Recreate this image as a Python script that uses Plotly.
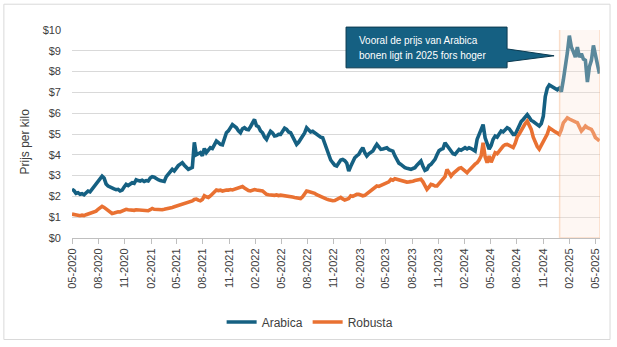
import pandas as pd
import plotly.graph_objects as go

# Weekly coffee prices in USD per kilo, starting 1 May 2020 (one row per quarter)
weeks = pd.date_range("2020-05-01", periods=264, freq="7D")

arabica = [
    2.34, 2.28, 2.15, 2.18, 2.10, 2.13, 2.08, 2.20, 2.26, 2.22, 2.35, 2.48, 2.55,
    2.70, 2.82, 2.97, 2.88, 2.60, 2.50, 2.44, 2.40, 2.36, 2.32, 2.34, 2.26, 2.30,
    2.45, 2.58, 2.52, 2.60, 2.66, 2.63, 2.80, 2.76, 2.74, 2.78, 2.72, 2.76, 2.74,
    2.88, 2.95, 2.92, 2.84, 2.80, 2.76, 2.74, 2.72, 2.95, 3.08, 3.15, 3.30, 3.22,
    3.36, 3.48, 3.55, 3.62, 3.50, 3.42, 3.30, 3.35, 3.40, 4.60, 4.00, 4.05, 4.10,
    3.95, 4.30, 4.10, 4.20, 4.34, 4.30, 4.50, 4.66, 4.58, 4.50, 4.48, 4.80, 5.06,
    5.15, 5.35, 5.45, 5.38, 5.30, 5.15, 5.06, 5.25, 5.30, 5.22, 5.20, 5.35, 5.55,
    5.70, 5.40, 5.35, 5.15, 5.06, 4.85, 4.74, 4.95, 5.13, 5.05, 4.90, 4.92, 4.98,
    4.98, 5.10, 5.28, 5.22, 5.10, 5.06, 4.85, 4.62, 4.50, 4.60, 4.75, 4.82, 5.05,
    5.30, 5.22, 5.10, 5.13, 5.05, 4.98, 4.90, 4.85, 4.82, 4.55, 4.26, 4.00, 3.75,
    3.62, 3.50, 3.46, 3.60, 3.75, 3.78, 3.72, 3.60, 3.22, 3.45, 3.70, 3.86, 3.95,
    4.02, 4.20, 4.34, 4.10, 3.94, 4.05, 4.12, 4.18, 4.35, 4.50, 4.38, 4.26, 4.28,
    4.32, 4.34, 4.25, 4.22, 4.18, 3.95, 3.80, 3.60, 3.54, 3.45, 3.38, 3.35, 3.32,
    3.30, 3.34, 3.38, 3.50, 3.62, 3.70, 3.45, 3.25, 3.30, 3.48, 3.54, 3.65, 3.78,
    4.00, 4.20, 4.26, 4.30, 4.58, 4.45, 4.34, 4.20, 4.05, 4.02, 4.15, 4.26, 4.22,
    4.30, 4.34, 4.28, 4.34, 4.30, 4.25, 4.18, 4.74, 5.00, 5.30, 5.45, 4.82, 4.50,
    4.27, 4.45, 4.75, 4.90, 4.85, 5.00, 5.14, 5.10, 5.22, 5.30, 5.25, 5.10, 4.98,
    4.98, 5.20, 5.46, 5.60, 5.70, 5.85, 5.93, 5.80, 5.65, 5.60, 5.54, 5.45, 5.38,
    5.50, 5.85, 6.80, 7.20, 7.36, 7.30, 7.28, 7.20, 7.12, 7.20, 7.04, 7.60, 8.20,
    8.90, 9.73, 9.18, 8.95, 8.70, 9.18, 8.70, 8.86, 8.60, 8.54, 7.50, 8.23, 8.54,
    9.26, 8.86, 8.30, 7.90,
]

robusta = [
    1.15, 1.12, 1.10, 1.08, 1.07, 1.10, 1.08, 1.12, 1.16, 1.18, 1.23, 1.26, 1.29,
    1.38, 1.45, 1.52, 1.47, 1.40, 1.30, 1.22, 1.18, 1.20, 1.24, 1.26, 1.25, 1.29,
    1.32, 1.38, 1.36, 1.34, 1.36, 1.33, 1.36, 1.35, 1.33, 1.31, 1.30, 1.29, 1.31,
    1.36, 1.42, 1.38, 1.37, 1.35, 1.34, 1.36, 1.38, 1.40, 1.39, 1.42, 1.47, 1.50,
    1.53, 1.56, 1.58, 1.62, 1.66, 1.69, 1.71, 1.74, 1.78, 1.85, 1.87, 1.82, 1.79,
    1.85, 2.03, 1.98, 1.95, 2.02, 2.10, 2.20, 2.31, 2.28, 2.30, 2.26, 2.29, 2.31,
    2.30, 2.33, 2.31, 2.34, 2.36, 2.38, 2.42, 2.47, 2.40, 2.32, 2.28, 2.26, 2.30,
    2.33, 2.31, 2.28, 2.27, 2.26, 2.18, 2.10, 2.08, 2.06, 2.03, 2.05, 2.07, 2.04,
    2.06, 2.05, 2.03, 2.04, 2.03, 2.00, 1.97, 1.95, 1.93, 1.90, 1.90, 1.98, 2.15,
    2.26, 2.24, 2.22, 2.20, 2.15, 2.08, 2.03, 1.98, 1.93, 1.88, 1.87, 1.84, 1.80,
    1.79, 1.80, 1.84, 1.90, 1.95, 1.88, 1.83, 1.86, 1.90, 2.03, 2.00, 2.05, 2.10,
    2.10, 2.06, 2.03, 2.05, 2.12, 2.20, 2.26, 2.35, 2.44, 2.50, 2.48, 2.52, 2.56,
    2.58, 2.62, 2.70, 2.82, 2.78, 2.85, 2.82, 2.78, 2.74, 2.72, 2.70, 2.69, 2.70,
    2.70, 2.73, 2.76, 2.79, 2.80, 2.82, 2.70, 2.50, 2.34, 2.45, 2.58, 2.55, 2.50,
    2.50, 2.62, 2.72, 2.82, 2.95, 3.30, 3.10, 2.98, 3.10, 3.20, 3.30, 3.35, 3.38,
    3.30, 3.20, 3.14, 3.25, 3.38, 3.45, 3.55, 3.62, 3.75, 3.94, 4.58, 3.90, 3.62,
    3.94, 3.64, 3.85, 4.10, 4.05, 4.20, 4.35, 4.42, 4.48, 4.50, 4.45, 4.38, 4.35,
    4.55, 4.85, 5.00, 5.20, 5.38, 5.50, 5.62, 5.45, 5.22, 4.85, 4.59, 4.40, 4.27,
    4.45, 4.60, 4.75, 5.00, 5.30, 5.22, 5.14, 5.10, 5.05, 4.98, 5.20, 5.54, 5.65,
    5.78, 5.72, 5.66, 5.62, 5.58, 5.54, 5.35, 5.14, 5.25, 5.38, 5.30, 5.26, 5.22,
    5.05, 4.83, 4.75, 4.67,
]

series_names = ["Arabica", "Robusta"]
series_colors = ["#156082", "#E97132"]

callout_lines = ["Vooral de prijs van Arabica", "bonen ligt in 2025 fors hoger"]
y_title = "Prijs per kilo"

FONT = "Liberation Sans, Arial, sans-serif"
TEXT = "#404040"

fig = go.Figure()
for name, vals, col in zip(series_names, [arabica, robusta], series_colors):
    fig.add_trace(go.Scatter(
        x=weeks, y=vals, mode="lines", name=name,
        line=dict(color=col, width=3.6),
    ))

# faint band marking 2025, drawn over the lines
fig.add_shape(type="rect", xref="x", yref="y",
              x0="2024-12-28", x1="2025-05-18", y0=0, y1=10.05,
              fillcolor="rgba(251,229,214,0.30)",
              line=dict(color="rgba(244,177,131,0.40)", width=1.5),
              layer="above")

# callout box with wedge pointing at the 2025 peak
fig.add_shape(type="path", xref="paper", yref="paper",
              path="M 0.519 1.014 L 0.824 1.014 L 0.824 0.909 L 0.913 0.876 "
                   "L 0.824 0.847 L 0.824 0.818 L 0.519 0.818 Z",
              fillcolor="#156082", line=dict(color="#0C3A50", width=1),
              layer="above")
for i, txt in enumerate(callout_lines):
    fig.add_annotation(xref="paper", yref="paper", x=0.540,
                       y=0.950 - i * 0.072, text=txt, showarrow=False,
                       xanchor="left", yanchor="middle", align="left",
                       font=dict(family=FONT, size=10, color="white"))

fig.add_annotation(xref="paper", yref="paper", x=-0.089, y=0.464,
                   text=y_title, textangle=-90, showarrow=False,
                   xanchor="center", yanchor="middle",
                   font=dict(family=FONT, size=12, color=TEXT))

# outer chart frame
fig.add_shape(type="rect", xref="paper", yref="paper",
              x0=-0.129, x1=1.019, y0=-0.488, y1=1.124,
              line=dict(color="#D9D9D9", width=1), fillcolor="rgba(0,0,0,0)",
              layer="below")

fig.update_layout(
    width=617, height=347,
    margin=dict(l=72, r=17, t=30, b=108),
    paper_bgcolor="white", plot_bgcolor="white",
    font=dict(family=FONT, size=11, color=TEXT),
    showlegend=True,
    legend=dict(orientation="h", x=0.451, xanchor="center", y=-0.397,
                yanchor="middle", font=dict(family=FONT, size=12, color=TEXT),
                itemwidth=30, tracegroupgap=0),
    xaxis=dict(type="date", range=["2020-05-01", "2025-05-18"],
               tick0="2020-05-01", dtick="M3", tickformat="%m-%Y",
               tickangle=-90, ticks="outside", ticklen=5, tickcolor="#BFBFBF",
               showline=True, linecolor="#BFBFBF", linewidth=1,
               showgrid=False, zeroline=False, automargin=False,
               tickfont=dict(family=FONT, size=11, color=TEXT)),
    yaxis=dict(range=[0, 10], dtick=1, tickprefix="$",
               showgrid=True, gridcolor="#D9D9D9", gridwidth=1.3,
               zeroline=False, showline=False, automargin=False,
               ticklabelstandoff=10,
               tickfont=dict(family=FONT, size=11, color=TEXT)),
)

fig.write_html("out.html")
